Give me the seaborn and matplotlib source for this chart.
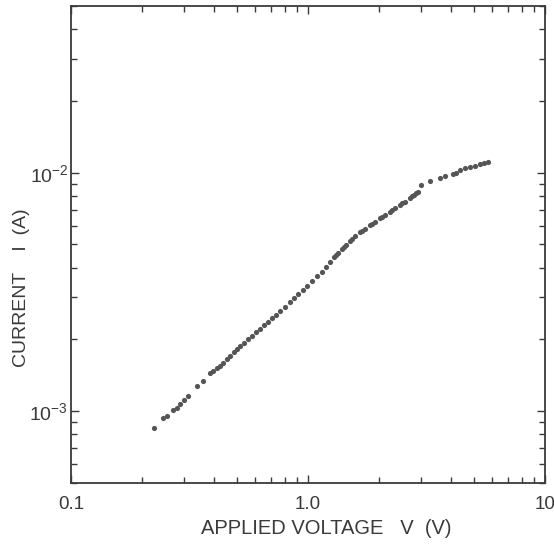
import numpy as np
import pandas as pd
import matplotlib
matplotlib.use("Agg")
import matplotlib.pyplot as plt
import seaborn as sns
from matplotlib.ticker import FixedLocator, NullFormatter

# DATA
voltage = [0.224, 0.244, 0.254, 0.269, 0.280, 0.288, 0.300, 0.312, 0.340, 0.361,
           0.386, 0.397, 0.413, 0.425, 0.438, 0.455, 0.469, 0.487, 0.502, 0.516,
           0.537, 0.558, 0.580, 0.603, 0.627, 0.652, 0.678, 0.705, 0.733, 0.762,
           0.800, 0.840, 0.873, 0.907, 0.953, 0.990, 1.040, 1.091, 1.146, 1.191,
           1.238, 1.287, 1.313, 1.339, 1.392, 1.419, 1.447, 1.504, 1.534, 1.579,
           1.658, 1.690, 1.740, 1.827, 1.862, 1.918, 2.013, 2.052, 2.113, 2.218,
           2.262, 2.329, 2.444, 2.493, 2.566, 2.694, 2.747, 2.801, 2.856, 2.912,
           2.998, 3.272, 3.606, 3.785, 4.091, 4.212, 4.379, 4.597, 4.826, 5.066,
           5.318, 5.529, 5.748]
current = [8.49e-4, 9.35e-4, 9.53e-4, 1.010e-3, 1.029e-3, 1.070e-3, 1.111e-3, 1.155e-3, 1.271e-3, 1.334e-3,
           1.440e-3, 1.468e-3, 1.511e-3, 1.547e-3, 1.600e-3, 1.663e-3, 1.711e-3, 1.778e-3, 1.821e-3, 1.884e-3,
           1.939e-3, 2.005e-3, 2.074e-3, 2.145e-3, 2.218e-3, 2.293e-3, 2.371e-3, 2.452e-3, 2.536e-3, 2.634e-3,
           2.738e-3, 2.859e-3, 2.971e-3, 3.087e-3, 3.224e-3, 3.350e-3, 3.514e-3, 3.687e-3, 3.850e-3, 4.020e-3,
           4.217e-3, 4.424e-3, 4.510e-3, 4.597e-3, 4.777e-3, 4.870e-3, 4.964e-3, 5.158e-3, 5.260e-3, 5.412e-3,
           5.623e-3, 5.710e-3, 5.815e-3, 6.013e-3, 6.100e-3, 6.219e-3, 6.431e-3, 6.530e-3, 6.619e-3, 6.846e-3,
           6.950e-3, 7.113e-3, 7.320e-3, 7.430e-3, 7.570e-3, 7.866e-3, 7.980e-3, 8.097e-3, 8.210e-3, 8.334e-3,
           8.913e-3, 9.261e-3, 9.532e-3, 9.670e-3, 9.904e-3, 1.000e-2, 1.024e-2, 1.044e-2, 1.059e-2, 1.069e-2,
           1.085e-2, 1.095e-2, 1.106e-2]

x_ticks = [0.1, 1.0, 10]
x_ticklabels = ["0.1", "1.0", "10"]
y_ticks = [1e-3, 1e-2]
y_ticklabels = [r"$\mathregular{10^{-3}}$", r"$\mathregular{10^{-2}}$"]

df = pd.DataFrame({"voltage": voltage, "current": current})

sns.set_theme(style="ticks")
plt.rcParams["font.family"] = ["Liberation Sans", "DejaVu Sans"]

ink = "#3a3a3a"
fig = plt.figure(figsize=(5.54, 5.45), dpi=100)
ax = fig.add_axes([0.1282, 0.1138, 0.8556, 0.8752])

sns.scatterplot(data=df, x="voltage", y="current", ax=ax,
                s=14, color="#555555", linewidth=0)

ax.set_xscale("log")
ax.set_yscale("log")
ax.set_xlim(0.1, 10)
ax.set_ylim(5e-4, 5e-2)

# ticks inward on all four sides
ax.xaxis.set_major_locator(FixedLocator(x_ticks))
ax.set_xticklabels(x_ticklabels)
minor_x = [m * d for d in (0.1, 1.0) for m in range(2, 10)]
ax.xaxis.set_minor_locator(FixedLocator(minor_x))
ax.xaxis.set_minor_formatter(NullFormatter())

ax.yaxis.set_major_locator(FixedLocator(y_ticks))
ax.set_yticklabels(y_ticklabels)
minor_y = [m * d for d in (1e-4, 1e-3, 1e-2) for m in range(2, 10)]
minor_y = [v for v in minor_y if 5e-4 <= v <= 5e-2]
ax.yaxis.set_minor_locator(FixedLocator(minor_y))
ax.yaxis.set_minor_formatter(NullFormatter())

ax.tick_params(which="both", direction="in", top=True, right=True,
               color=ink, width=1.0)
ax.tick_params(which="major", length=5.5)
ax.tick_params(which="minor", length=4.5)
ax.tick_params(axis="x", which="major", pad=9.5, labelsize=13.5, labelcolor=ink)
ax.tick_params(axis="y", which="major", pad=2, labelsize=14, labelcolor=ink)

for sp in ax.spines.values():
    sp.set_visible(True)
    sp.set_linewidth(1.3)
    sp.set_color(ink)

ax.set_xlabel("APPLIED VOLTAGE   V  (V)", fontsize=14.5, color=ink)
ax.set_ylabel("CURRENT    I  (A)", fontsize=14, color=ink)
ax.xaxis.set_label_coords(0.538, -0.076)
ax.yaxis.set_label_coords(-0.086, 0.409)

fig.savefig("out.png", dpi=100, facecolor="white")
